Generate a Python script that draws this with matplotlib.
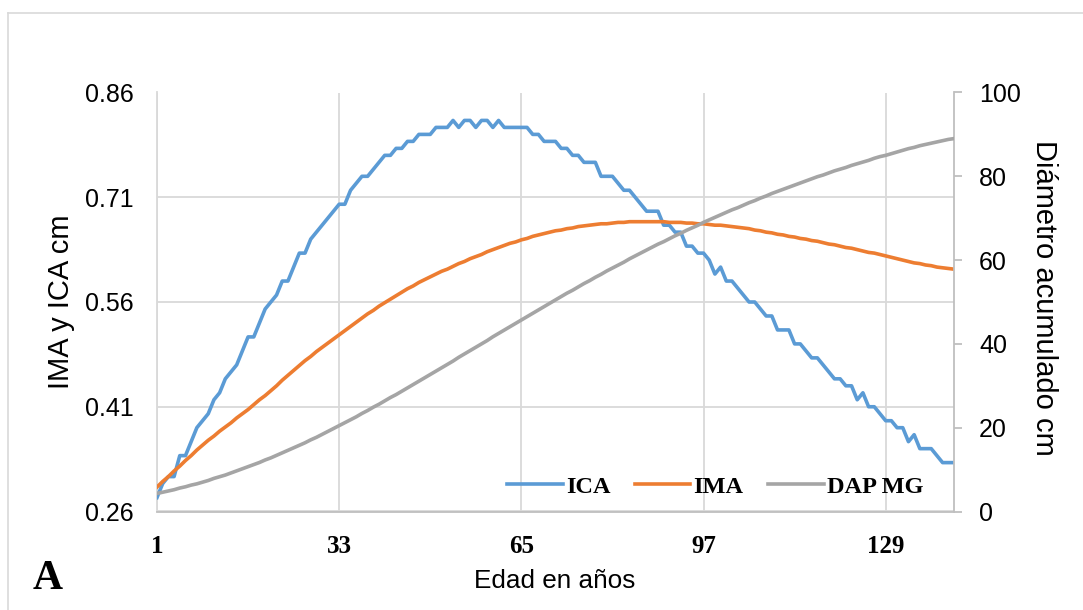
import matplotlib
matplotlib.use("Agg")
import matplotlib.pyplot as plt
from matplotlib.lines import Line2D

# Ages (years) on a category axis
ages = list(range(1, 142))

# Current annual increment (cm)
ica = [0.28, 0.30, 0.31, 0.31, 0.34, 0.34, 0.36, 0.38, 0.39, 0.40,
       0.42, 0.43, 0.45, 0.46, 0.47, 0.49, 0.51, 0.51, 0.53, 0.55,
       0.56, 0.57, 0.59, 0.59, 0.61, 0.63, 0.63, 0.65, 0.66, 0.67,
       0.68, 0.69, 0.70, 0.70, 0.72, 0.73, 0.74, 0.74, 0.75, 0.76,
       0.77, 0.77, 0.78, 0.78, 0.79, 0.79, 0.80, 0.80, 0.80, 0.81,
       0.81, 0.81, 0.82, 0.81, 0.82, 0.82, 0.81, 0.82, 0.82, 0.81,
       0.82, 0.81, 0.81, 0.81, 0.81, 0.81, 0.80, 0.80, 0.79, 0.79,
       0.79, 0.78, 0.78, 0.77, 0.77, 0.76, 0.76, 0.76, 0.74, 0.74,
       0.74, 0.73, 0.72, 0.72, 0.71, 0.70, 0.69, 0.69, 0.69, 0.67,
       0.67, 0.66, 0.66, 0.64, 0.64, 0.63, 0.63, 0.62, 0.60, 0.61,
       0.59, 0.59, 0.58, 0.57, 0.56, 0.56, 0.55, 0.54, 0.54, 0.52,
       0.52, 0.52, 0.50, 0.50, 0.49, 0.48, 0.48, 0.47, 0.46, 0.45,
       0.45, 0.44, 0.44, 0.42, 0.43, 0.41, 0.41, 0.40, 0.39, 0.39,
       0.38, 0.38, 0.36, 0.37, 0.35, 0.35, 0.35, 0.34, 0.33, 0.33,
       0.33]

# Mean annual increment (cm)
ima = [0.295, 0.303, 0.310, 0.318, 0.325, 0.333, 0.340, 0.348, 0.355, 0.362,
       0.368, 0.375, 0.381, 0.387, 0.394, 0.400, 0.406, 0.413, 0.420, 0.426,
       0.433, 0.440, 0.448, 0.455, 0.462, 0.469, 0.476, 0.482, 0.489, 0.495,
       0.501, 0.507, 0.513, 0.519, 0.525, 0.531, 0.537, 0.543, 0.548, 0.554,
       0.559, 0.564, 0.569, 0.574, 0.579, 0.583, 0.588, 0.592, 0.596, 0.600,
       0.604, 0.607, 0.611, 0.615, 0.618, 0.622, 0.625, 0.628, 0.632, 0.635,
       0.638, 0.641, 0.644, 0.646, 0.649, 0.651, 0.654, 0.656, 0.658, 0.660,
       0.662, 0.663, 0.665, 0.666, 0.668, 0.669, 0.670, 0.671, 0.672, 0.672,
       0.673, 0.674, 0.674, 0.675, 0.675, 0.675, 0.675, 0.675, 0.675, 0.675,
       0.674, 0.674, 0.674, 0.673, 0.673, 0.672, 0.672, 0.671, 0.670, 0.670,
       0.669, 0.668, 0.667, 0.666, 0.665, 0.663, 0.662, 0.660, 0.659, 0.657,
       0.656, 0.654, 0.653, 0.651, 0.650, 0.648, 0.647, 0.645, 0.643, 0.642,
       0.640, 0.638, 0.637, 0.635, 0.633, 0.631, 0.630, 0.628, 0.626, 0.624,
       0.622, 0.620, 0.618, 0.616, 0.615, 0.613, 0.612, 0.610, 0.609, 0.608,
       0.607]

# Accumulated diameter at breast height (cm)
dap = [4.3, 4.6, 4.9, 5.2, 5.6, 5.9, 6.3, 6.6, 7.0, 7.4,
       7.9, 8.3, 8.7, 9.2, 9.7, 10.2, 10.7, 11.2, 11.7, 12.3,
       12.8, 13.4, 14.0, 14.6, 15.2, 15.8, 16.4, 17.1, 17.7, 18.4,
       19.1, 19.8, 20.5, 21.2, 21.9, 22.6, 23.4, 24.1, 24.9, 25.6,
       26.4, 27.2, 27.9, 28.7, 29.5, 30.3, 31.1, 31.9, 32.7, 33.5,
       34.3, 35.1, 35.9, 36.8, 37.6, 38.4, 39.2, 40.0, 40.8, 41.7,
       42.5, 43.3, 44.1, 44.9, 45.7, 46.5, 47.3, 48.1, 48.9, 49.7,
       50.5, 51.3, 52.1, 52.8, 53.6, 54.4, 55.1, 55.9, 56.6, 57.4,
       58.1, 58.8, 59.5, 60.3, 61.0, 61.7, 62.4, 63.1, 63.8, 64.4,
       65.1, 65.8, 66.4, 67.1, 67.7, 68.3, 69.0, 69.6, 70.2, 70.8,
       71.4, 72.0, 72.5, 73.1, 73.7, 74.2, 74.8, 75.3, 75.9, 76.4,
       76.9, 77.4, 77.9, 78.4, 78.9, 79.4, 79.9, 80.3, 80.8, 81.3,
       81.7, 82.1, 82.6, 83.0, 83.4, 83.8, 84.3, 84.7, 85.0, 85.4,
       85.8, 86.2, 86.6, 86.9, 87.3, 87.6, 87.9, 88.2, 88.5, 88.8,
       89.0]

x_ticks = [1, 33, 65, 97, 129]
left_ticks = [0.26, 0.41, 0.56, 0.71, 0.86]
left_tick_labels = ["0.26", "0.41", "0.56", "0.71", "0.86"]
right_ticks = [0, 20, 40, 60, 80, 100]

BLUE = "#5B9BD5"
ORANGE = "#ED7D31"
GRAY = "#A5A5A5"
GRID = "#D9D9D9"
AXIS = "#BFBFBF"
SANS = "Liberation Sans"
SERIF = "Liberation Serif"

W, H = 1083, 610
fig = plt.figure(figsize=(W / 100, H / 100), dpi=100)
fig.patch.set_facecolor("white")

# Outer chart-area frame (left and top edges visible)
fig.add_artist(Line2D([7.5 / W, 7.5 / W], [0, 1 - 12.5 / H], color=GRID, lw=1.2))
fig.add_artist(Line2D([7.5 / W, 1], [1 - 12.5 / H, 1 - 12.5 / H], color=GRID, lw=1.2))

left, right_px, top, bottom = 157, 954, 92.5, 511.5
ax = fig.add_axes([left / W, 1 - bottom / H, (right_px - left) / W, (bottom - top) / H])
ax2 = ax.twinx()

lw = 2.6
l_ica, = ax.plot(ages, ica, color=BLUE, lw=lw, solid_joinstyle="round", zorder=3)
l_ima, = ax.plot(ages, ima, color=ORANGE, lw=lw, solid_joinstyle="round", zorder=3)
l_dap, = ax2.plot(ages, dap, color=GRAY, lw=lw, solid_joinstyle="round", zorder=3)

ax.set_xlim(1, 141)
ax.set_ylim(0.26, 0.86)
ax2.set_ylim(0, 100)

ax.set_xticks(x_ticks)
ax.set_yticks(left_ticks)
ax.set_yticklabels(left_tick_labels)
ax2.set_yticks(right_ticks)

ax.grid(True, color=GRID, lw=1.3, zorder=0)
ax.set_axisbelow(True)

for sp in ["top", "right"]:
    ax.spines[sp].set_visible(False)
ax.spines["left"].set_color(GRID)
ax.spines["left"].set_linewidth(1.3)
ax.spines["bottom"].set_color(AXIS)
ax.spines["bottom"].set_linewidth(1.3)
for sp in ["top", "left", "bottom"]:
    ax2.spines[sp].set_visible(False)
ax2.spines["right"].set_color(AXIS)
ax2.spines["right"].set_linewidth(1.3)

ax.tick_params(axis="y", length=0, pad=17, labelsize=18, labelcolor="black")
ax.tick_params(axis="x", length=0, pad=17)
ax2.tick_params(axis="y", length=6, width=1.3, color=AXIS, pad=12,
                labelsize=18, direction="out")

for lab in ax.get_yticklabels() + ax2.get_yticklabels():
    lab.set_fontfamily(SANS)
for lab in ax.get_xticklabels():
    lab.set_fontfamily(SERIF)
    lab.set_fontweight("bold")
    lab.set_fontsize(18)

# Axis titles
fig.text(61 / W, 1 - 302 / H, "IMA y ICA cm", fontfamily=SANS, fontsize=21,
         rotation=90, ha="center", va="center")
fig.text(1044 / W, 1 - 298 / H, "Diámetro acumulado cm", fontfamily=SANS,
         fontsize=21, rotation=270, ha="center", va="center")
fig.text(555 / W, 1 - 581 / H, "Edad en años", fontfamily=SANS, fontsize=18.8,
         ha="center", va="center")
fig.text(48 / W, 1 - 579 / H, "A", fontfamily=SERIF, fontweight="bold",
         fontsize=30, ha="center", va="center")

leg = ax2.legend([l_ica, l_ima, l_dap], ["ICA", "IMA", "DAP MG"], ncol=3,
                 frameon=False, loc="center", bbox_to_anchor=(715 / W, 1 - 487 / H),
                 bbox_transform=fig.transFigure,
                 prop={"family": SERIF, "weight": "bold", "size": 17.5},
                 handlelength=2.3, handletextpad=0.12, columnspacing=1.0)

fig.savefig("out.png", dpi=100, facecolor="white")
